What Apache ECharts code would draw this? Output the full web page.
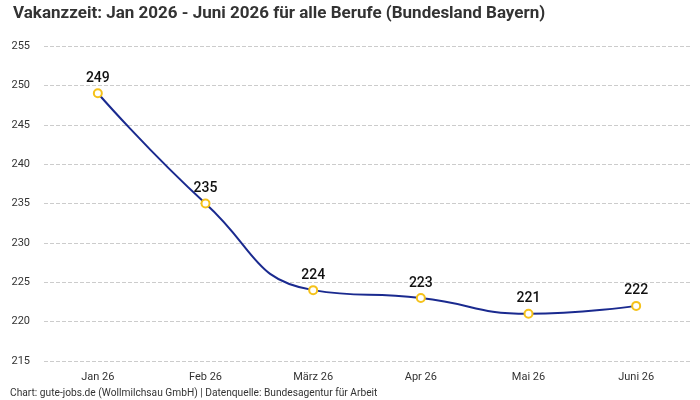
<!DOCTYPE html>
<html>
<head>
<meta charset="utf-8">
<script src="https://cdn.jsdelivr.net/npm/echarts@6/dist/echarts.min.js"></script>
<style>
  html, body { margin: 0; padding: 0; background: #fff; }
  #chart { width: 700px; height: 400px; }
</style>
</head>
<body>
<div id="chart"></div>
<script>
// Monate und Vakanzzeit in Tagen
var months = ['Jan 26', 'Feb 26', 'März 26', 'Apr 26', 'Mai 26', 'Juni 26'];
var vakanzTage = [249, 235, 224, 223, 221, 222];

var chart = echarts.init(document.getElementById('chart'));

var option = {
  backgroundColor: '#fff',
  textStyle: { fontFamily: 'Roboto, "Noto Sans", sans-serif' },
  title: {
    text: 'Vakanzzeit: Jan 2026 - Juni 2026 für alle Berufe (Bundesland Bayern)',
    left: 8,
    top: 0,
    textStyle: { fontSize: 17, fontWeight: 'bold', color: '#333' }
  },
  graphic: [{
    type: 'text',
    left: 10,
    bottom: 2,
    style: {
      text: 'Chart: gute-jobs.de (Wollmilchsau GmbH) | Datenquelle: Bundesagentur für Arbeit',
      fontSize: 10.2,
      fill: '#333',
      fontFamily: 'Roboto, "Noto Sans", sans-serif'
    }
  }],
  grid: { left: 44, right: 10, top: 46, bottom: 39 },
  xAxis: {
    type: 'category',
    data: months,
    axisLine: { show: false },
    axisTick: { show: false },
    axisLabel: { color: '#333', fontSize: 11, margin: 11 }
  },
  yAxis: {
    type: 'value',
    min: 215,
    max: 255,
    interval: 5,
    axisLine: { show: false },
    axisTick: { show: false },
    axisLabel: { color: '#333', fontSize: 11, margin: 14 },
    splitLine: { lineStyle: { type: 'dashed', color: '#ccc' } }
  },
  series: [{
    type: 'line',
    data: vakanzTage,
    smooth: true,
    symbol: 'circle',
    symbolSize: 8,
    lineStyle: { color: '#1a2a8f', width: 2 },
    itemStyle: { color: '#fff', borderColor: '#f5c21b', borderWidth: 2 },
    label: {
      show: true,
      position: 'top',
      distance: 3,
      fontSize: 14,
      fontWeight: 500,
      color: '#111'
    }
  }]
};

chart.setOption(option);
</script>
</body>
</html>
